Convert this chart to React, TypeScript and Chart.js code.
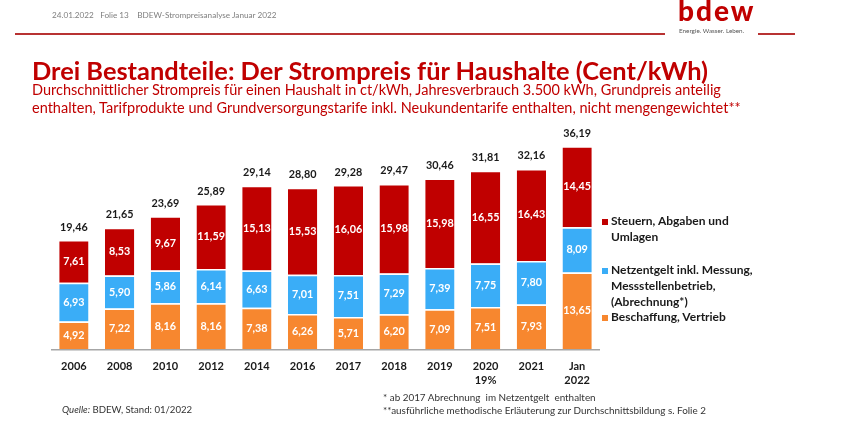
import React, { useEffect, useRef } from "react";
import { Chart, registerables } from "chart.js";

Chart.register(...registerables);

const categories: (string | string[])[] = [
  "2006", "2008", "2010", "2012", "2014", "2016", "2017", "2018", "2019",
  ["2020", "19%"], "2021", ["Jan", "2022"],
];
const beschaffung = [4.92, 7.22, 8.16, 8.16, 7.38, 6.26, 5.71, 6.2, 7.09, 7.51, 7.93, 13.65];
const netzentgelt = [6.93, 5.9, 5.86, 6.14, 6.63, 7.01, 7.51, 7.29, 7.39, 7.75, 7.8, 8.09];
const steuern = [7.61, 8.53, 9.67, 11.59, 15.13, 15.53, 16.06, 15.98, 15.98, 16.55, 16.43, 14.45];
const totals = [19.46, 21.65, 23.69, 25.89, 29.14, 28.8, 29.28, 29.47, 30.46, 31.81, 32.16, 36.19];

const seriesNames = ["Beschaffung, Vertrieb", "Netzentgelt inkl. Messung, Messstellenbetrieb, (Abrechnung*)", "Steuern, Abgaben und Umlagen"];
const RED = "#C00000";
const BLUE = "#3AADF7";
const ORANGE = "#F7872F";
const FONT = "Lato, 'Open Sans', sans-serif";

const fmt = (v: number) => v.toFixed(2).replace(".", ",");

const labelPlugin = {
  id: "segLabels",
  afterDatasetsDraw(chart: any) {
    const ctx = chart.ctx;
    ctx.save();
    ctx.textAlign = "center";
    ctx.textBaseline = "middle";
    ctx.font = `bold 10.8px ${FONT}`;
    chart.data.datasets.forEach((ds: any, i: number) => {
      const meta = chart.getDatasetMeta(i);
      meta.data.forEach((bar: any, j: number) => {
        ctx.fillStyle = "#ffffff";
        ctx.fillText(fmt(ds.data[j]), bar.x, (bar.y + bar.base) / 2);
      });
    });
    const last = chart.getDatasetMeta(chart.data.datasets.length - 1);
    ctx.fillStyle = "#1a1a1a";
    last.data.forEach((bar: any, j: number) => {
      ctx.fillText(fmt(totals[j]), bar.x, bar.y - 13);
    });
    const a = chart.chartArea;
    ctx.strokeStyle = "#a6a6a6";
    ctx.lineWidth = 1.5;
    ctx.beginPath();
    ctx.moveTo(a.left, a.bottom + 0.75);
    ctx.lineTo(a.right, a.bottom + 0.75);
    ctx.stroke();
    ctx.restore();
  },
};

function ChartCanvas() {
  const ref = useRef<HTMLCanvasElement | null>(null);
  useEffect(() => {
    if (!ref.current) return;
    const mk = (label: string, data: number[], color: string) => ({
      label,
      data,
      backgroundColor: color,
      borderColor: "#ffffff",
      borderWidth: { top: 1.5, left: 0, right: 0, bottom: 0 },
      borderSkipped: false,
      barPercentage: 0.64,
      categoryPercentage: 1,
    });
    const chart = new Chart(ref.current, {
      type: "bar",
      data: {
        labels: categories,
        datasets: [
          mk(seriesNames[0], beschaffung, ORANGE),
          mk(seriesNames[1], netzentgelt, BLUE),
          mk(seriesNames[2], steuern, RED),
        ],
      },
      options: {
        responsive: false,
        animation: false,
        devicePixelRatio: 1,
        layout: { padding: { left: 51, right: 249, top: 125, bottom: 39 } },
        plugins: { legend: { display: false }, tooltip: { enabled: false } },
        scales: {
          x: {
            stacked: true,
            grid: { display: false, drawTicks: false },
            border: { display: false },
            ticks: {
              color: "#1a1a1a",
              padding: 10,
              font: { family: FONT, size: 11, weight: "bold", lineHeight: 1.3 },
              maxRotation: 0,
              autoSkip: false,
            },
            afterFit: (s: any) => { s.height = 50; },
          },
          y: { stacked: true, display: false, min: 0, max: 40 },
        },
      },
      plugins: [labelPlugin],
    } as any);
    return () => chart.destroy();
  }, []);
  return <canvas ref={ref} width={849} height={438} style={{ position: "absolute", left: 0, top: 0, width: 849, height: 438 }} />;
}

const abs = (left: number, top: number, extra: React.CSSProperties = {}): React.CSSProperties => ({
  position: "absolute", left, top, whiteSpace: "nowrap", fontFamily: FONT, ...extra,
});

export default function App() {
  const legendText: React.CSSProperties = { fontWeight: 700, fontSize: 12, color: "#1a1a1a", lineHeight: "16px" };
  return (
    <div style={{ position: "fixed", left: 0, top: 0, width: 849, height: 438, background: "#fff", overflow: "hidden" }}>
      <ChartCanvas />
      <div style={abs(52, 10, { fontSize: 8.2, color: "#7f7f7f" })}>
        24.01.2022&nbsp;&nbsp;&nbsp;Folie 13&nbsp;&nbsp;&nbsp;&nbsp;BDEW-Strompreisanalyse Januar 2022
      </div>
      <div style={{ position: "absolute", left: 15, top: 33, width: 650, height: 1.5, background: "#b83232" }} />
      <div style={{ position: "absolute", left: 758, top: 33, width: 37, height: 1.5, background: "#b83232" }} />
      <div style={abs(678, -7, { fontSize: 28, fontWeight: 900, color: RED, letterSpacing: 2 })}>bdew</div>
      <div style={abs(679, 27, { fontSize: 6.3, color: "#555" })}>Energie. Wasser. Leben.</div>
      <div style={abs(32, 55, { fontSize: 25.4, fontWeight: 700, color: RED })}>
        Drei Bestandteile: Der Strompreis für Haushalte (Cent/kWh)
      </div>
      <div style={abs(32, 81, { fontSize: 14.5, color: RED, lineHeight: "18px" })}>
        Durchschnittlicher Strompreis für einen Haushalt in ct/kWh, Jahresverbrauch 3.500 kWh, Grundpreis anteilig
        <br />
        enthalten, Tarifprodukte und Grundversorgungstarife inkl. Neukundentarife enthalten, nicht mengengewichtet**
      </div>
      <div style={{ position: "absolute", left: 602, top: 219, width: 6, height: 6, background: RED }} />
      <div style={abs(611, 213, legendText)}>Steuern, Abgaben und<br />Umlagen</div>
      <div style={{ position: "absolute", left: 602, top: 268, width: 6, height: 6, background: BLUE }} />
      <div style={abs(611, 262, legendText)}>Netzentgelt inkl. Messung,<br />Messstellenbetrieb,<br />(Abrechnung*)</div>
      <div style={{ position: "absolute", left: 602, top: 315, width: 6, height: 6, background: ORANGE }} />
      <div style={abs(611, 309, legendText)}>Beschaffung, Vertrieb</div>
      <div style={abs(62, 404, { fontSize: 9.6, color: "#333" })}>
        <i>Quelle:</i> BDEW, Stand: 01/2022
      </div>
      <div style={abs(383, 391, { fontSize: 9.9, color: "#333", lineHeight: "13px" })}>
        * ab 2017 Abrechnung&nbsp; im Netzentgelt&nbsp; enthalten
        <br />
        **ausführliche methodische Erläuterung zur Durchschnittsbildung s. Folie 2
      </div>
    </div>
  );
}
